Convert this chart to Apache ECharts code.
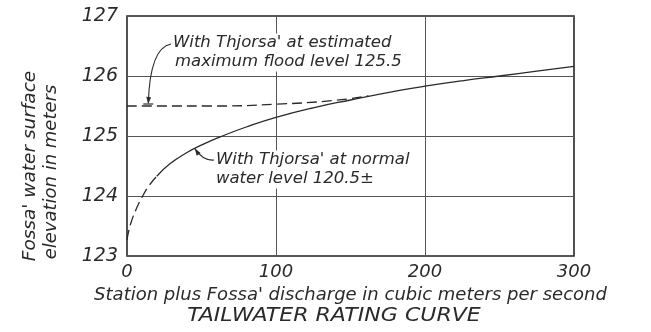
<!DOCTYPE html>
<html>
<head>
<meta charset="utf-8">
<script src="https://cdn.jsdelivr.net/npm/echarts@6/dist/echarts.min.js"></script>
<style>
  html, body { margin: 0; padding: 0; background: #fff; }
  #chart { width: 651px; height: 332px; }
</style>
</head>
<body>
<div id="chart"></div>
<script>
// Tailwater rating curve: Fossa' water surface elevation vs. discharge.

// Discharge (m^3/s) and elevation (m) with Thjorsa' at normal level.
const normalFlow  = [0, 1, 3, 6.5, 10.5, 15, 20, 29, 40, 51, 64, 80, 100, 125, 150, 183, 200, 225, 250, 275, 300];
const normalLevel = [123.27, 123.4, 123.58, 123.8, 124.0, 124.18, 124.33, 124.54, 124.72, 124.86, 125.0, 125.15, 125.31, 125.47, 125.6, 125.76, 125.83, 125.92, 126.0, 126.08, 126.16];
// Points up to this index are the estimated (dashed) part of the curve.
const normalDashedEnd = 6;

// Elevation with Thjorsa' at maximum flood level 125.5.
const floodFlow  = [0, 60, 100, 138, 162];
const floodLevel = [125.5, 125.5, 125.53, 125.59, 125.67];

// Axis ticks.
const xTicks = [0, 100, 200, 300];
const yTicks = [123, 124, 125, 126, 127];

const FONT = '"DejaVu Sans", "Liberation Sans", sans-serif';
const INK = '#2a2a2a';

const pairs = (xs, ys) => xs.map((x, i) => [x, ys[i]]);
const normalPts = pairs(normalFlow, normalLevel);

const chart = echarts.init(document.getElementById('chart'), null, { renderer: 'canvas' });

const lineStyleSolid = { color: INK, width: 1.3 };
const lineStyleDash = { color: INK, width: 1.3, type: [10, 5] };

chart.setOption({
  animation: false,
  backgroundColor: '#fff',
  grid: { left: 127, right: 77, top: 16, bottom: 76, show: true, borderColor: '#222', borderWidth: 1.6 },
  xAxis: {
    type: 'value', min: xTicks[0], max: xTicks[xTicks.length - 1], interval: 100,
    name: "Station plus Fossa' discharge in cubic meters per second",
    nameLocation: 'middle', nameGap: 28,
    nameTextStyle: { fontFamily: FONT, fontStyle: 'italic', fontSize: 18, color: INK },
    axisLine: { show: false }, axisTick: { show: false },
    axisLabel: { margin: 7, fontFamily: FONT, fontStyle: 'italic', fontSize: 18, color: INK },
    splitLine: { lineStyle: { color: '#555', width: 1 } }
  },
  yAxis: {
    type: 'value', min: yTicks[0], max: yTicks[yTicks.length - 1], interval: 1,
    axisLine: { show: false }, axisTick: { show: false },
    axisLabel: { margin: 9, fontFamily: FONT, fontStyle: 'italic', fontSize: 19, color: INK },
    splitLine: { lineStyle: { color: '#555', width: 1 } }
  },
  series: [
    {
      type: 'line', name: 'normal-estimated', data: normalPts.slice(0, normalDashedEnd + 1),
      smooth: 0.5, showSymbol: false, lineStyle: lineStyleDash, z: 3
    },
    {
      type: 'line', name: 'normal', data: normalPts.slice(normalDashedEnd),
      smooth: 0.5, showSymbol: false, lineStyle: lineStyleSolid, z: 3
    },
    {
      type: 'line', name: 'flood', data: pairs(floodFlow, floodLevel),
      smooth: 0.5, showSymbol: false, lineStyle: lineStyleDash, z: 3
    }
  ]
});

// Annotations placed after layout so leaders land on the curves.
function px(x, y) { return chart.convertToPixel({ gridIndex: 0 }, [x, y]); }

function arrowHead(tip, from, size, bar) {
  const dx = tip[0] - from[0], dy = tip[1] - from[1];
  const len = Math.hypot(dx, dy) || 1;
  const ux = dx / len, uy = dy / len;
  const bx = tip[0] - ux * size, by = tip[1] - uy * size;
  const nx = -uy * size * 0.35, ny = ux * size * 0.35;
  const items = [{
    type: 'polygon', z: 10,
    shape: { points: [tip, [bx + nx, by + ny], [bx - nx, by - ny]] },
    style: { fill: INK }
  }];
  if (bar) {
    items.push({
      type: 'line', z: 10,
      shape: { x1: tip[0] - 5, y1: tip[1], x2: tip[0] + 5, y2: tip[1] },
      style: { stroke: INK, lineWidth: 1.2 }
    });
  }
  return items;
}

function label(text, x, y, size) {
  return {
    type: 'text', z: 8, x: x, y: y,
    style: {
      text: text, fill: INK, font: 'italic ' + size + 'px ' + FONT,
      textVerticalAlign: 'middle', backgroundColor: '#fff', padding: [1, 2]
    }
  };
}

const floodTip = px(14.3, floodLevel[0]);
const floodStart = [171, 44];
const floodCtrl = [150, 48];
const normalTip = px(45.5, 124.79);
const normalStart = [214, 160];
const normalCtrl = [203, 161];

const graphics = [
  label("With Thjorsa' at estimated", 171, 43, 16.5),
  label("maximum flood level 125.5", 173, 62, 16.5),
  label("With Thjorsa' at normal", 214, 160, 16.5),
  label("water level 120.5\u00b1", 214, 179, 16.5),
  {
    type: 'bezierCurve', z: 9,
    shape: { x1: floodStart[0], y1: floodStart[1], x2: floodTip[0], y2: floodTip[1] - 3, cpx1: floodCtrl[0], cpy1: floodCtrl[1] },
    style: { stroke: INK, lineWidth: 1.1, fill: null }
  },
  ...arrowHead([floodTip[0], floodTip[1] - 2], [floodTip[0] + 1, floodTip[1] - 20], 7, true),
  {
    type: 'bezierCurve', z: 9,
    shape: { x1: normalStart[0], y1: normalStart[1], x2: normalTip[0], y2: normalTip[1], cpx1: normalCtrl[0], cpy1: normalCtrl[1] },
    style: { stroke: INK, lineWidth: 1.1, fill: null }
  },
  ...arrowHead(normalTip, normalCtrl, 7, false),
  {
    type: 'text', x: 30, y: 166, rotation: Math.PI / 2,
    style: { text: "Fossa' water surface", fill: INK, font: 'italic 18.5px ' + FONT, textAlign: 'center', textVerticalAlign: 'middle' }
  },
  {
    type: 'text', x: 51, y: 172, rotation: Math.PI / 2,
    style: { text: 'elevation in meters', fill: INK, font: 'italic 18px ' + FONT, textAlign: 'center', textVerticalAlign: 'middle' }
  },
  {
    type: 'text', x: 334, y: 316, scaleX: 1.16,
    style: { text: 'TAILWATER RATING CURVE', fill: INK, font: 'italic 19px ' + FONT, textAlign: 'center', textVerticalAlign: 'middle' }
  }
];

chart.setOption({ graphic: graphics });
</script>
</body>
</html>
